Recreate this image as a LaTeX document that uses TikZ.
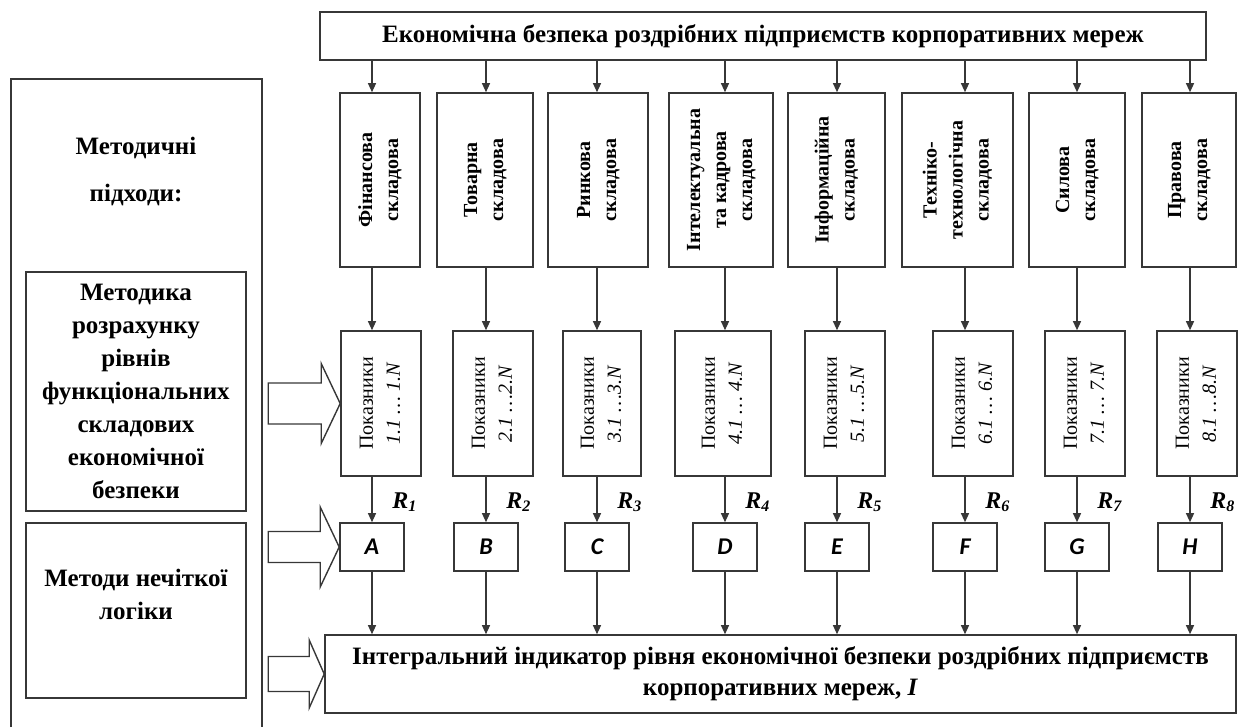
\documentclass[tikz,border=0pt]{standalone}
\usepackage{fontspec}
\setmainfont{Liberation Serif}
\newfontfamily\letterfont{Carlito}
\usetikzlibrary{arrows.meta, calc}
\definecolor{linegray}{RGB}{55,55,55}
\tikzset{
  x=0.5pt, y=-0.5pt,
  box/.style={rectangle, draw=linegray, line width=0.8pt, inner sep=0pt},
  arrow/.style={-{Triangle[length=4.5pt,width=4pt]}, line width=0.6pt, color=linegray},
  hollow/.style={draw=linegray, line width=0.7pt, line join=miter}
}
\newcommand{\vtext}[1]{\rotatebox{90}{\begin{tabular}{@{}c@{}}#1\end{tabular}}}

\begin{document}
\begin{tikzpicture}[
  compbox/.style={box, minimum height=87pt, font=\fontsize{10}{13}\selectfont\bfseries},
  indbox/.style={box, minimum height=72.5pt, minimum width=40pt, font=\fontsize{10}{13.5}\selectfont},
  letbox/.style={box, minimum width=32pt, minimum height=24pt,
    font=\letterfont\fontsize{12}{14}\selectfont\bfseries\itshape},
  rlabel/.style={anchor=west, inner sep=0pt, font=\fontsize{12}{13}\selectfont\bfseries\itshape},
  bigtext/.style={align=center, font=\fontsize{12.5}{16.5}\selectfont\bfseries}]

  \useasboundingbox (0,0) rectangle (1245,727);

  % top and bottom blocks
  \node[box, minimum width=443pt, minimum height=24pt, font=\fontsize{12.5}{15}\selectfont\bfseries]
    (top) at (763,36) {Економічна безпека роздрібних підприємств корпоративних мереж};
  \node[box, minimum width=455.5pt, minimum height=39pt, align=center,
    font=\fontsize{12.5}{15.5}\selectfont\bfseries] (integral) at (780.5,674)
    {Інтегральний індикатор рівня економічної безпеки роздрібних підприємств\\корпоративних мереж, \textit{I}};

  % left column
  \draw[linegray, line width=0.8pt] (11,727) -- (11,79) -- (262,79) -- (262,727);
  \node[bigtext, font=\fontsize{12.5}{23.5}\selectfont\bfseries] (approach) at (136,171) {Методичні\\підходи:};
  \node[box, bigtext, minimum width=110pt, minimum height=119.5pt] (method) at (136,391.5)
    {Методика\\розрахунку\\рівнів\\функціональних\\складових\\економічної\\безпеки};
  \node[box, minimum width=110pt, minimum height=87.5pt] (fuzzy) at (136,610.5) {};
  \node[bigtext] (fuzzytext) at (136,594) {Методи нечіткої\\логіки};

  % components
  \node[compbox, minimum width=40pt] (fin) at (380,180) {\vtext{Фінансова\\складова}};
  \node[compbox, minimum width=48pt] (goods) at (485,180) {\vtext{Товарна\\складова}};
  \node[compbox, minimum width=50pt] (market) at (598,180) {\vtext{Ринкова\\складова}};
  \node[compbox, minimum width=52pt] (intel) at (721,180) {\vtext{Інтелектуальна\\та кадрова\\складова}};
  \node[compbox, minimum width=48.5pt] (info) at (836.5,180) {\vtext{Інформаційна\\складова}};
  \node[compbox, minimum width=55.5pt] (tech) at (957.5,180) {\vtext{Техніко-\\технологічна\\складова}};
  \node[compbox, minimum width=48pt] (force) at (1077,180) {\vtext{Силова\\складова}};
  \node[compbox, minimum width=47pt] (legal) at (1189,180) {\vtext{Правова\\складова}};

  % indicators
  \node[indbox] (ind1) at (381,403.5) {\vtext{Показники\\\textit{1.1 … 1.N}}};
  \node[indbox] (ind2) at (493,403.5) {\vtext{Показники\\\textit{2.1 …2.N}}};
  \node[indbox, minimum width=39pt] (ind3) at (602,403.5) {\vtext{Показники\\\textit{3.1 …3.N}}};
  \node[indbox, minimum width=48pt] (ind4) at (723,403.5) {\vtext{Показники\\\textit{4.1 … 4.N}}};
  \node[indbox] (ind5) at (845,403.5) {\vtext{Показники\\\textit{5.1 …5.N}}};
  \node[indbox] (ind6) at (973,403.5) {\vtext{Показники\\\textit{6.1 … 6.N}}};
  \node[indbox] (ind7) at (1085,403.5) {\vtext{Показники\\\textit{7.1 … 7.N}}};
  \node[indbox] (ind8) at (1197,403.5) {\vtext{Показники\\\textit{8.1 …8.N}}};

  % fuzzy levels
  \node[letbox] (A) at (372,547) {A};
  \node[letbox] (B) at (486,547) {B};
  \node[letbox] (C) at (597,547) {C};
  \node[letbox] (D) at (725,547) {D};
  \node[letbox] (E) at (837,547) {E};
  \node[letbox] (F) at (965,547) {F};
  \node[letbox] (G) at (1077,547) {G};
  \node[letbox] (H) at (1190,547) {H};

  \foreach \cmp/\idx/\lbl [count=\n] in {fin/ind1/A, goods/ind2/B, market/ind3/C, intel/ind4/D,
      info/ind5/E, tech/ind6/F, force/ind7/G, legal/ind8/H} {
    \draw[arrow] (\lbl |- top.south) -- (\lbl |- \cmp.north);
    \draw[arrow] (\lbl |- \cmp.south) -- (\lbl |- \idx.north);
    \draw[arrow] (\lbl |- \idx.south) -- (\lbl.north);
    \draw[arrow] (\lbl.south) -- (\lbl |- integral.north);
    \node[rlabel] (r\n) at ($(\lbl.north)+(20,-20)$) {R\textsubscript{\n}};
  }

  % hollow block arrows
  \draw[hollow] (ind1.west) -- ++(-19,-40) -- ++(0,19.5) -- ++(-53,0) -- ++(0,41)
    -- ++(53,0) -- ++(0,19.5) -- cycle;
  \draw[hollow] (A.west) -- ++(-19,-40) -- ++(0,24.5) -- ++(-52,0) -- ++(0,31)
    -- ++(52,0) -- ++(0,24.5) -- cycle;
  \draw[hollow] (integral.west) -- ++(-15,-34) -- ++(0,16.5) -- ++(-41,0) -- ++(0,35)
    -- ++(41,0) -- ++(0,16.5) -- cycle;
\end{tikzpicture}
\end{document}
